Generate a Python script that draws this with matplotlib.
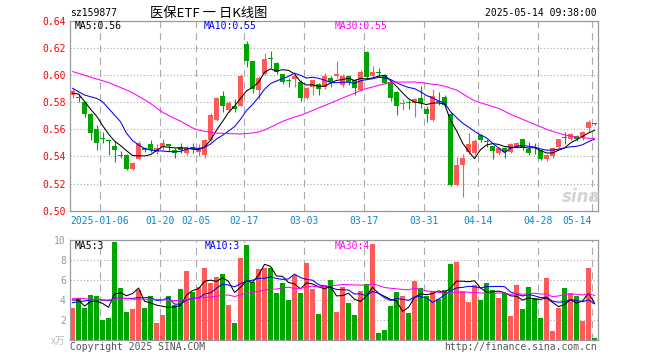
import matplotlib
matplotlib.use("Agg")
import matplotlib.pyplot as plt
import numpy as np
import pandas as pd

plt.rcParams['font.family'] = ['DejaVu Sans Mono', 'Noto Sans CJK SC']

# daily candles, 2024-12-27 .. 2025-05-14 (88 sessions)
opens = [0.585, 0.584, 0.580, 0.571, 0.560, 0.5535, 0.552, 0.548, 0.541, 0.541,
         0.531, 0.538, 0.546, 0.549, 0.543, 0.547, 0.549, 0.5447, 0.5467, 0.5427,
         0.5467, 0.5435, 0.541, 0.552, 0.567, 0.5845, 0.5742, 0.5775, 0.5775, 0.6225,
         0.6103, 0.589, 0.601, 0.6125, 0.609, 0.6005, 0.596, 0.5968, 0.5945, 0.583,
         0.591, 0.5935, 0.591, 0.598, 0.599, 0.5925, 0.599, 0.596, 0.589, 0.617,
         0.5995, 0.602, 0.600, 0.595, 0.5877, 0.5787, 0.580, 0.579, 0.583, 0.575,
         0.5665, 0.5805, 0.5835, 0.5715, 0.519, 0.534, 0.543, 0.5425, 0.5555, 0.551,
         0.5477, 0.5425, 0.5465, 0.5435, 0.5472, 0.5525, 0.5452, 0.5457, 0.5447, 0.538,
         0.540, 0.547, 0.554, 0.5525, 0.555, 0.5533, 0.5607, 0.5640]
closes = [0.588, 0.583, 0.571, 0.557, 0.550, 0.553, 0.5515, 0.545, 0.5405, 0.531,
          0.5355, 0.550, 0.545, 0.545, 0.546, 0.550, 0.548, 0.5425, 0.5447, 0.546,
          0.5455, 0.546, 0.552, 0.5705, 0.583, 0.577, 0.5796, 0.5747, 0.5995, 0.6105,
          0.590, 0.598, 0.612, 0.612, 0.6025, 0.595, 0.5955, 0.599, 0.583, 0.5905,
          0.596, 0.590, 0.599, 0.5945, 0.6005, 0.599, 0.595, 0.5905, 0.6025, 0.5985,
          0.6025, 0.6015, 0.594, 0.583, 0.577, 0.579, 0.5795, 0.582, 0.579, 0.5715,
          0.5845, 0.580, 0.578, 0.519, 0.5335, 0.539, 0.5495, 0.551, 0.552, 0.5505,
          0.5443, 0.5465, 0.5435, 0.549, 0.5497, 0.546, 0.5425, 0.5452, 0.538, 0.541,
          0.546, 0.5525, 0.5537, 0.5565, 0.5527, 0.558, 0.5655, 0.5637]
highs = [0.590, 0.586, 0.581, 0.572, 0.563, 0.558, 0.553, 0.551, 0.5443, 0.542,
         0.536, 0.551, 0.547, 0.552, 0.549, 0.553, 0.549, 0.546, 0.5497, 0.548,
         0.5497, 0.549, 0.553, 0.572, 0.584, 0.5885, 0.5805, 0.582, 0.601, 0.625,
         0.6105, 0.599, 0.6165, 0.618, 0.6095, 0.601, 0.598, 0.600, 0.596, 0.5915,
         0.597, 0.594, 0.6015, 0.599, 0.610, 0.601, 0.600, 0.597, 0.604, 0.6175,
         0.6065, 0.605, 0.601, 0.5955, 0.588, 0.582, 0.5815, 0.583, 0.592, 0.577,
         0.590, 0.5875, 0.585, 0.5725, 0.5395, 0.5415, 0.5575, 0.553, 0.5565, 0.553,
         0.548, 0.547, 0.547, 0.550, 0.5505, 0.553, 0.5505, 0.550, 0.545, 0.5415,
         0.547, 0.553, 0.558, 0.557, 0.5555, 0.559, 0.567, 0.5645]
lows = [0.583, 0.580, 0.569, 0.552, 0.545, 0.550, 0.541, 0.536, 0.539, 0.530,
        0.530, 0.537, 0.543, 0.543, 0.542, 0.545, 0.544, 0.539, 0.5423, 0.541,
        0.5423, 0.540, 0.539, 0.551, 0.566, 0.573, 0.573, 0.573, 0.577, 0.606,
        0.587, 0.582, 0.600, 0.605, 0.601, 0.5935, 0.5915, 0.591, 0.581, 0.582,
        0.585, 0.5855, 0.590, 0.591, 0.598, 0.5915, 0.5925, 0.5855, 0.5885, 0.598,
        0.5975, 0.5985, 0.593, 0.581, 0.5705, 0.574, 0.575, 0.569, 0.576, 0.5655,
        0.566, 0.578, 0.577, 0.518, 0.518, 0.510, 0.542, 0.541, 0.5505, 0.547,
        0.538, 0.541, 0.539, 0.5425, 0.546, 0.5445, 0.541, 0.5418, 0.5375, 0.5365,
        0.539, 0.546, 0.549, 0.552, 0.551, 0.552, 0.558, 0.5635]
# volume, 万手
volumes = [3.23, 4.17, 3.23, 4.5, 4.4, 2.0, 2.23, 9.83, 5.23, 2.83,
           3.1, 5.0, 3.23, 4.4, 1.73, 2.5, 4.4, 3.5, 5.1, 6.93,
           4.83, 5.27, 7.23, 5.67, 6.33, 6.57, 3.5, 1.73, 8.23, 9.5,
           5.83, 7.1, 7.17, 7.23, 4.67, 5.67, 4.0, 6.5, 4.73, 7.67,
           5.1, 2.6, 5.5, 6.0, 2.83, 5.33, 3.73, 2.5, 4.9, 5.6,
           9.6, 0.73, 1.0, 3.4, 4.8, 4.4, 2.73, 5.9, 5.23, 4.4,
           4.93, 4.1, 5.0, 7.6, 7.8, 4.9, 3.83, 5.5, 4.0, 5.73,
           5.0, 4.23, 4.73, 2.4, 5.5, 3.1, 5.33, 4.17, 2.23, 6.17,
           0.9, 3.23, 5.17, 4.73, 4.4, 1.93, 7.17, 0.17]

# moving averages at the left edge need sessions before the window
ma5_head = [0.5865, 0.586, 0.5805, 0.5748]
ma10_head = [0.5902, 0.5877, 0.5852, 0.584, 0.5828, 0.5803, 0.5754, 0.5705, 0.5656]
ma30 = [0.6025, 0.6012, 0.5998, 0.5985, 0.5971, 0.5958, 0.5944, 0.5926, 0.5908, 0.589,
        0.5868, 0.5843, 0.5818, 0.5790, 0.5757, 0.5726, 0.5702, 0.5680, 0.5660, 0.5635,
        0.5610, 0.5595, 0.5585, 0.5578, 0.5572, 0.5570, 0.5568, 0.5567, 0.5566, 0.5568,
        0.5573, 0.5580, 0.5595, 0.5615, 0.5637, 0.5658, 0.5675, 0.5690, 0.5703, 0.5720,
        0.5738, 0.5757, 0.5775, 0.5793, 0.5811, 0.5830, 0.5848, 0.5866, 0.5885, 0.5900,
        0.5912, 0.5924, 0.5935, 0.5945, 0.5948, 0.5948, 0.5948, 0.5948, 0.5945, 0.5938,
        0.5932, 0.5927, 0.5918, 0.5903, 0.5889, 0.5862, 0.5835, 0.5810, 0.5795, 0.5782,
        0.5768, 0.5754, 0.5733, 0.5710, 0.5692, 0.5673, 0.5655, 0.5636, 0.5618, 0.5600,
        0.5585, 0.5572, 0.5559, 0.5550, 0.5543, 0.5537, 0.5534, 0.5532]
vma5_head = [4.0, 4.0, 3.4, 3.83]
vma10_head = [3.73, 3.83, 3.9, 4.0, 4.07, 4.0, 3.93, 4.17, 4.17]
vma30_head = [4.17, 4.17, 4.13, 4.1, 4.05, 4.0, 4.0, 4.1, 4.17, 4.15,
              4.1, 4.07, 4.07, 4.07, 4.07, 4.03, 4.0, 3.93, 3.97, 4.07,
              4.1, 4.17, 4.25, 4.3, 4.37, 4.47, 4.5, 4.35, 4.5]

tick_idx = [5, 15, 21, 29, 39, 49, 59, 68, 78, 87]
tick_labels = ["2025-01-06", "01-20", "02-05", "02-17", "03-03",
               "03-17", "03-31", "04-14", "04-28", "05-14"]
price_ticks = [0.50, 0.52, 0.54, 0.56, 0.58, 0.60, 0.62, 0.64]
vol_ticks = [0, 2, 4, 6, 8, 10]
vol_tick_labels = ["x万", "2", "4", "6", "8", "10"]

RED, GREEN = "#ff5a5a", "#00a600"
GRID = "#aaaaaa"
W, H = 660, 360
LW = 0.75


def rolling_with_head(values, n, head):
    out = pd.Series(values).rolling(n).mean().to_numpy()
    out[:len(head)] = head
    return out


def style_axes(ax, nbars):
    ax.set_xlim(-0.42, nbars - 0.42)
    for s in ax.spines.values():
        s.set_color("#999999")
        s.set_linewidth(0.9)
    for i in tick_idx:
        ax.axvline(i - 0.42, color=GRID, lw=0.8, ls=(0, (6.5, 4.5)), zorder=0)
    ax.tick_params(length=0, labelsize=7)


def figtext(x, y, s, **kw):
    fig.text(x / W, 1 - y / H, s, va="center", **kw)


x = np.arange(len(closes))
o, c, h, l = map(np.array, (opens, closes, highs, lows))
up = c >= o
colors = np.where(up, RED, GREEN)

fig = plt.figure(figsize=(6.6, 3.6), dpi=100)

# --- price panel ---
ax = fig.add_axes([70 / W, 1 - 210.7 / H, 528 / W, 190 / H])
style_axes(ax, len(x))
ax.set_ylim(0.50, 0.64)
ax.set_yticks(price_ticks)
ax.set_yticklabels([f"{v:.2f}" for v in price_ticks], color="#ff0000")
ax.grid(axis="y", color=GRID, lw=0.8, ls=(0, (1, 2)))
ax.set_xticks([i - 0.42 for i in tick_idx])
ax.set_xticklabels(tick_labels, color="#0b86d1")
ax.get_xticklabels()[-1].set_ha("right")
ax.tick_params(axis="y", pad=3)
ax.tick_params(axis="x", pad=4)

ax.vlines(x, l, h, colors=colors, lw=0.8, zorder=2)
body = np.maximum(np.abs(c - o), 0.0006)
ax.bar(x, body, bottom=np.minimum(o, c), width=0.8, color=colors, zorder=3)

ax.plot(x, rolling_with_head(closes, 5, ma5_head), color="black", lw=LW, zorder=4)
ax.plot(x, rolling_with_head(closes, 10, ma10_head), color="#0000ff", lw=LW, zorder=4)
ax.plot(x, ma30, color="#ff00ff", lw=LW, zorder=4)

# --- volume panel ---
axv = fig.add_axes([70 / W, 1 - 340 / H, 528 / W, 100 / H])
style_axes(axv, len(x))
axv.set_ylim(0, 10)
axv.set_yticks(vol_ticks)
axv.set_yticklabels(vol_tick_labels, color="#999999")
axv.get_yticklabels()[0].set_color("#bbbbbb")
axv.get_yticklabels()[0].set_fontfamily(["Noto Sans CJK SC", "DejaVu Sans"])
axv.grid(axis="y", color=GRID, lw=0.8, ls=(0, (1, 2)))
axv.set_xticks([])
axv.tick_params(axis="y", pad=3)

axv.bar(x, volumes, width=0.83, color=colors, zorder=2)
axv.plot(x, rolling_with_head(volumes, 5, vma5_head), color="black", lw=LW, zorder=4)
axv.plot(x, rolling_with_head(volumes, 10, vma10_head), color="#0000ff", lw=LW, zorder=4)
axv.plot(x, rolling_with_head(volumes, 30, vma30_head), color="#ff00ff", lw=LW, zorder=4)

# --- texts ---
figtext(70, 13, "sz159877", fontsize=7, color="black")
figtext(209, 13, "医保ETF 一 日K线图", fontsize=9.5, ha="center",
        family=["Noto Sans CJK SC", "DejaVu Sans"])
figtext(597, 13, "2025-05-14 09:38:00", fontsize=7, ha="right")
figtext(75, 26, "MA5:0.56", fontsize=7, color="black")
figtext(204, 26, "MA10:0.55", fontsize=7, color="#0000ff")
figtext(335, 26, "MA30:0.55", fontsize=7, color="#ff00ff")
figtext(75, 246, "MA5:3", fontsize=7, color="black")
figtext(205, 246, "MA10:3", fontsize=7, color="#0000ff")
figtext(335, 246, "MA30:4", fontsize=7, color="#ff00ff")
figtext(70, 347, "Copyright 2025 SINA.COM", fontsize=7, color="#555555")
figtext(597, 347, "http://finance.sina.com.cn", fontsize=7, color="#555555", ha="right")
figtext(581, 197, "sina", fontsize=12, color="#d4d4d4", ha="center",
        family="DejaVu Sans", weight="bold", style="italic")

fig.savefig("out.png", dpi=100)
